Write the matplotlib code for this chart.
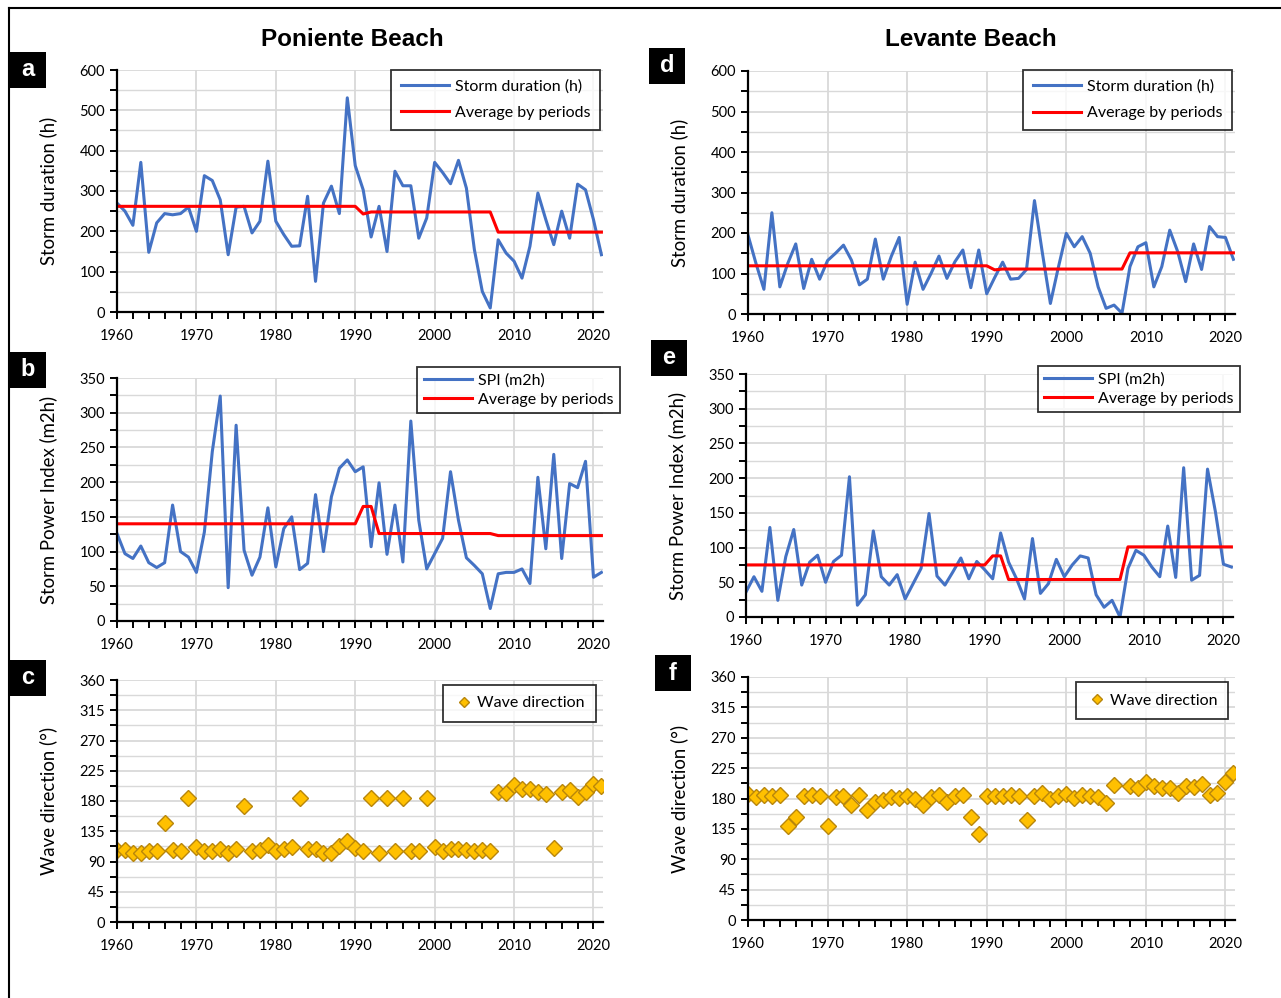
import numpy as np
import matplotlib
matplotlib.use("Agg")
import matplotlib.pyplot as plt
from matplotlib.lines import Line2D
from matplotlib.patches import Rectangle
from matplotlib.ticker import MultipleLocator

plt.rcParams['font.family'] = ['Lato', 'DejaVu Sans']

years = np.arange(1960, 2022)

# Poniente beach
pon_dur = [270, 250, 215, 371, 148, 221, 244, 241, 244, 260, 200, 338, 326, 278, 142, 260,
           262, 196, 225, 374, 225, 192, 163, 164, 287, 76, 270, 312, 244, 531, 363, 303,
           186, 262, 150, 349, 313, 313, 183, 233, 371, 346, 318, 376, 307, 155, 51, 10,
           179, 146, 126, 84, 163, 295, 229, 167, 250, 183, 317, 303, 229, 142]
pon_dur_avg = [262] * 31 + [243] + [248] * 16 + [198] * 14
pon_spi = [126, 97, 90, 108, 84, 77, 84, 167, 100, 92, 70, 128, 244, 324, 48, 282,
           102, 66, 92, 163, 78, 133, 150, 74, 83, 182, 100, 179, 220, 232, 215, 222,
           107, 199, 96, 167, 85, 288, 145, 75, 97, 119, 215, 145, 91, 80, 68, 18,
           68, 70, 70, 75, 54, 207, 104, 240, 90, 198, 192, 230, 63, 70]
pon_spi_avg = [140] * 31 + [165, 165] + [126] * 15 + [123] * 14
pon_dir = [107, 107, 102, 102, 106, 106, 147, 107, 105, 184, 111, 106, 105, 109, 102, 108,
           173, 106, 107, 114, 106, 109, 112, 184, 109, 109, 103, 102, 113, 121, 110, 106,
           184, 102, 184, 106, 184, 106, 106, 184, 112, 105, 109, 108, 107, 105, 107, 106,
           194, 192, 204, 198, 198, 193, 190, 110, 194, 197, 186, 193, 206, 203]

# Levante beach
lev_dur = [195, 125, 61, 250, 67, 125, 173, 63, 135, 86, 132, 150, 170, 133, 72, 86,
           185, 86, 142, 189, 24, 128, 61, 100, 143, 88, 129, 158, 65, 158, 50, 90,
           128, 86, 88, 110, 280, 150, 26, 115, 199, 166, 191, 150, 67, 14, 22, 2,
           117, 166, 176, 67, 117, 207, 154, 80, 173, 110, 216, 191, 189, 135]
lev_dur_avg = [119] * 31 + [109] + [111] * 16 + [151] * 14
lev_spi = [36, 58, 37, 129, 24, 87, 126, 46, 79, 89, 50, 80, 89, 202, 17, 32,
           124, 58, 46, 61, 26, 48, 70, 149, 59, 46, 65, 85, 55, 80, 68, 55,
           121, 79, 55, 26, 113, 34, 48, 83, 58, 75, 88, 85, 32, 14, 24, 0,
           70, 96, 89, 72, 58, 131, 57, 215, 53, 60, 213, 151, 76, 72]
lev_spi_avg = [75] * 31 + [88, 88] + [54] * 15 + [101] * 14
lev_dir = [186, 182, 185, 184, 185, 139, 152, 184, 185, 183, 139, 182, 183, 171, 185, 163,
           175, 178, 182, 181, 184, 180, 170, 182, 185, 175, 184, 185, 153, 128, 184, 184,
           184, 185, 183, 148, 183, 188, 180, 183, 187, 181, 185, 183, 182, 173, 200, np.nan,
           198, 196, 205, 198, 196, 196, 188, 198, 197, 201, 185, 188, 205, 218]

BLUE = "#4472C4"
RED = "#FF0000"
GOLD = "#FFC000"
GOLD_EDGE = "#B8860B"
GRID = "#D9D9D9"

W, H = 1281, 998
fig = plt.figure(figsize=(W / 100, H / 100), dpi=100)


def px_axes(left, top, right, bottom):
    return fig.add_axes([left / W, 1 - bottom / H, (right - left) / W, (bottom - top) / H])


def style(ax, ymax, ymajor, yminor, ylabel):
    ax.set_xlim(1960, 2021.2)
    ax.set_ylim(0, ymax)
    ax.xaxis.set_major_locator(MultipleLocator(10))
    ax.xaxis.set_minor_locator(MultipleLocator(2))
    ax.yaxis.set_major_locator(MultipleLocator(ymajor))
    ax.yaxis.set_minor_locator(MultipleLocator(yminor))
    ax.grid(True, which="major", color=GRID, linewidth=1.3)
    ax.grid(True, which="minor", axis="y", color=GRID, linewidth=1.0)
    ax.set_axisbelow(True)
    for s in ["top", "right"]:
        ax.spines[s].set_visible(False)
    for s in ["left", "bottom"]:
        ax.spines[s].set_linewidth(1.6)
        ax.spines[s].set_color("black")
    ax.tick_params(which="both", direction="out", length=5, width=1.4, labelsize=10.5)
    ax.tick_params(axis="x", pad=7)
    ax.set_ylabel(ylabel, fontsize=13.4)
    ax.yaxis.set_label_coords(-0.123, 0.5)


def line_panel(ax, val, avg, label):
    ax.plot(years, val, color=BLUE, linewidth=2.2, label=label)
    ax.plot(years, avg, color=RED, linewidth=2.2, label="Average by periods")


def legend(ax, x, y, spacing=0.75, **kw):
    opts = dict(fontsize=11.5, handlelength=3.0, handletextpad=0.4, borderpad=0.55)
    opts.update(kw)
    leg = ax.legend(loc="upper right", bbox_to_anchor=(x, y), frameon=True,
                    fancybox=False, edgecolor="black", labelspacing=spacing,
                    borderaxespad=0, **opts)
    leg.get_frame().set_linewidth(1.3)
    return leg


def dir_panel(ax, val):
    ax.plot(years, val, linestyle="none", marker="D", markersize=8, markerfacecolor=GOLD,
            markeredgecolor=GOLD_EDGE, markeredgewidth=1.0, label="Wave direction")


# a
ax = px_axes(117, 70, 603, 312)
line_panel(ax, pon_dur, pon_dur_avg, "Storm duration (h)")
style(ax, 600, 100, 50, "Storm duration (h)")
legend(ax, 0.994, 1.0, 0.75, borderpad=0.6)

# b
ax = px_axes(117, 378, 603, 621)
line_panel(ax, pon_spi, pon_spi_avg, "SPI (m2h)")
style(ax, 350, 50, 25, "Storm Power Index (m2h)")
legend(ax, 1.035, 1.044, 0.3, borderpad=0.4)

# c
ax = px_axes(117, 680, 603, 922)
dir_panel(ax, pon_dir)
style(ax, 360, 45, 22.5, "Wave direction (\u00b0)")
leg = legend(ax, 0.985, 0.979, 0.5, handlelength=1.2, handletextpad=0.2,
             borderpad=0.7)
for h in leg.legend_handles:
    h.set_markersize(5.5)

# d
ax = px_axes(748, 71, 1235, 314)
line_panel(ax, lev_dur, lev_dur_avg, "Storm duration (h)")
style(ax, 600, 100, 50, "Storm duration (h)")
legend(ax, 0.994, 1.004, 0.75, borderpad=0.6)

# e
ax = px_axes(746, 374, 1233, 617)
line_panel(ax, lev_spi, lev_spi_avg, "SPI (m2h)")
style(ax, 350, 50, 25, "Storm Power Index (m2h)")
legend(ax, 1.015, 1.033, 0.3, borderpad=0.4)

# f
ax = px_axes(748, 677, 1235, 920)
dir_panel(ax, lev_dir)
style(ax, 360, 45, 22.5, "Wave direction (\u00b0)")
leg = legend(ax, 0.986, 0.978, 0.5, handlelength=1.2, handletextpad=0.2,
             borderpad=0.7)
for h in leg.legend_handles:
    h.set_markersize(5.5)

# titles
fig.text(352 / W, 1 - 40 / H, "Poniente Beach", ha="center", va="center",
         fontsize=17.5, fontweight="bold", family="Liberation Sans")
fig.text(971 / W, 1 - 40 / H, "Levante Beach", ha="center", va="center",
         fontsize=17.5, fontweight="bold", family="Liberation Sans")

# panel letters
letters = [("a", 10, 52), ("b", 10, 352), ("c", 10, 660),
           ("d", 649, 48), ("e", 651, 340), ("f", 655, 655)]
for txt, x0, y0 in letters:
    fig.patches.append(Rectangle((x0 / W, 1 - (y0 + 36) / H), 36 / W, 36 / H,
                                 transform=fig.transFigure, facecolor="black",
                                 edgecolor="none"))
    fig.text((x0 + 18) / W, 1 - (y0 + 18) / H, txt, ha="center", va="center",
             color="white", fontsize=17, fontweight="bold", family="Liberation Sans")

# outer frame
fig.add_artist(Line2D([9 / W, 9 / W], [0, 1 - 8 / H], transform=fig.transFigure,
                      color="black", linewidth=1.5))
fig.add_artist(Line2D([9 / W, 1], [1 - 8 / H, 1 - 8 / H], transform=fig.transFigure,
                      color="black", linewidth=1.5))

fig.savefig("out.png", dpi=100)
